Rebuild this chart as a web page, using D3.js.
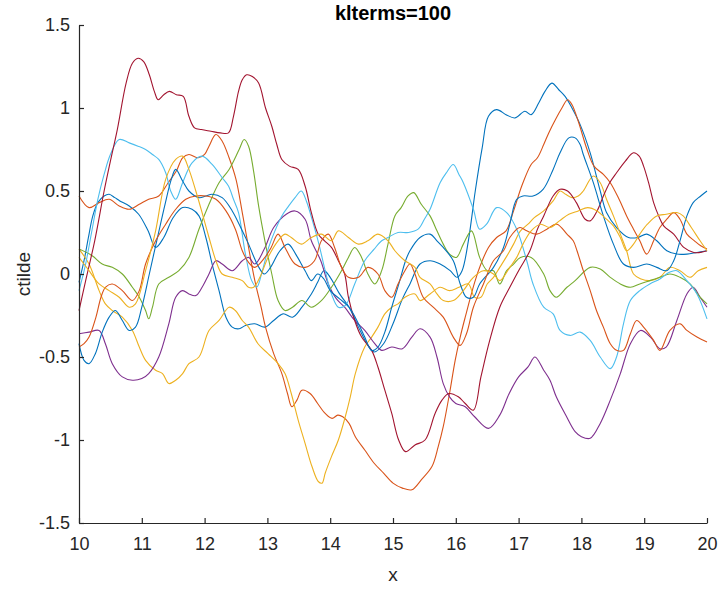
<!DOCTYPE html>
<html>
<head>
<meta charset="utf-8">
<script src="https://cdn.jsdelivr.net/npm/d3@7"></script>
<style>
  body { margin: 0; background: #fff; }
  svg { display: block; font-family: "Liberation Sans", Arial, Helvetica, sans-serif; }
</style>
</head>
<body>
<div id="chart"></div>
<script>
// Plot constants
const W = 718, H = 591;
const MARGIN = {LEFT: 79, RIGHT: 11, TOP: 25, BOTTOM: 68};

const titleText = "klterms=100";
const xLabel = "x";
const yLabel = "ctilde";
const xTicks = [10, 11, 12, 13, 14, 15, 16, 17, 18, 19, 20];
const yTicks = [-1.5, -1, -0.5, 0, 0.5, 1, 1.5];

// MATLAB default colour order
const colorOrder = ["#0072BD", "#D95319", "#EDB120", "#7E2F8E", "#77AC30", "#4DBEEE", "#A2142F"];

// series as [x, ctilde]
const blueA = [[10.0,-0.05],[10.08,0.08],[10.15,0.22],[10.22,0.35],[10.3,0.43],[10.4,0.47],[10.48,0.48],[10.57,0.46],[10.65,0.44],[10.8,0.41],[10.95,0.36],[11.1,0.26],[11.22,0.16],[11.35,0.22],[11.5,0.34],[11.65,0.4],[11.8,0.39],[11.91,0.35],[12.02,0.22],[12.12,0.06],[12.23,-0.1],[12.34,-0.26],[12.44,-0.32],[12.55,-0.33],[12.65,-0.31],[12.8,-0.3],[12.96,-0.32],[13.1,-0.28],[13.25,-0.24],[13.4,-0.26],[13.55,-0.2],[13.7,-0.12],[13.8,-0.05],[13.9,0.02],[14.0,-0.02],[14.15,-0.12],[14.3,-0.2],[14.45,-0.32],[14.6,-0.43],[14.7,-0.47],[14.85,-0.42],[15.0,-0.3],[15.15,-0.15],[15.27,-0.06],[15.43,0.06],[15.59,0.08],[15.75,0.06],[15.91,0.02],[16.02,-0.02],[16.1,0.02],[16.2,0.2],[16.31,0.5],[16.42,0.76],[16.52,0.95],[16.65,0.99],[16.8,0.96],[16.94,0.94],[17.1,0.98],[17.2,0.96],[17.32,1.03],[17.42,1.1],[17.53,1.15],[17.64,1.11],[17.74,1.07],[17.85,1.0],[17.98,0.9],[18.14,0.73],[18.3,0.5],[18.4,0.37],[18.56,0.28],[18.75,0.22],[18.9,0.22],[19.04,0.24],[19.2,0.2],[19.36,0.14],[19.52,0.12],[19.68,0.12],[19.84,0.13],[20.0,0.14]];

const orangeA = [[10.0,0.47],[10.16,0.4],[10.32,0.43],[10.48,0.45],[10.64,0.41],[10.8,0.39],[10.96,0.42],[11.11,0.45],[11.27,0.47],[11.42,0.55],[11.55,0.62],[11.65,0.7],[11.75,0.72],[11.9,0.7],[12.0,0.72],[12.07,0.77],[12.18,0.84],[12.28,0.8],[12.39,0.7],[12.5,0.57],[12.6,0.37],[12.7,0.16],[12.8,-0.04],[12.9,-0.2],[12.97,-0.32],[13.1,-0.48],[13.23,-0.6],[13.32,-0.72],[13.39,-0.8],[13.47,-0.76],[13.55,-0.7],[13.68,-0.72],[13.8,-0.78],[13.92,-0.84],[14.03,-0.87],[14.12,-0.85],[14.2,-0.86],[14.3,-0.9],[14.4,-0.98],[14.55,-1.06],[14.7,-1.14],[14.85,-1.2],[15.0,-1.26],[15.15,-1.29],[15.3,-1.3],[15.45,-1.24],[15.62,-1.16],[15.72,-1.04],[15.8,-0.92],[15.9,-0.72],[15.99,-0.52],[16.07,-0.38],[16.15,-0.26],[16.3,-0.05],[16.4,0.06],[16.52,0.16],[16.65,0.22],[16.8,0.26],[16.92,0.38],[17.05,0.53],[17.2,0.66],[17.3,0.7],[17.4,0.78],[17.48,0.85],[17.6,0.94],[17.69,1.0],[17.78,1.05],[17.85,1.02],[17.95,0.92],[18.09,0.75],[18.2,0.65],[18.35,0.6],[18.46,0.55],[18.6,0.45],[18.72,0.35],[18.83,0.27],[18.93,0.2],[19.04,0.12],[19.15,0.2],[19.25,0.28],[19.36,0.33],[19.47,0.37],[19.57,0.33],[19.68,0.24],[19.8,0.2],[19.9,0.17],[20.0,0.15]];

const yellowA = [[10.0,0.15],[10.16,0.06],[10.32,-0.1],[10.42,-0.18],[10.53,-0.22],[10.69,-0.26],[10.85,-0.34],[10.96,-0.44],[11.06,-0.52],[11.22,-0.58],[11.33,-0.6],[11.43,-0.66],[11.54,-0.64],[11.65,-0.6],[11.75,-0.54],[11.91,-0.5],[12.07,-0.34],[12.23,-0.28],[12.39,-0.2],[12.49,-0.22],[12.6,-0.28],[12.7,-0.32],[12.85,-0.42],[13.01,-0.48],[13.17,-0.54],[13.28,-0.6],[13.38,-0.72],[13.49,-0.88],[13.6,-1.02],[13.71,-1.16],[13.81,-1.25],[13.87,-1.26],[13.92,-1.2],[14.02,-1.1],[14.13,-1.0],[14.24,-0.86],[14.32,-0.74],[14.4,-0.6],[14.55,-0.44],[14.66,-0.38],[14.76,-0.32],[14.87,-0.24],[14.98,-0.2],[15.08,-0.18],[15.19,-0.14],[15.35,-0.12],[15.43,-0.16],[15.59,-0.12],[15.75,-0.08],[15.9,-0.1],[16.05,-0.08],[16.2,-0.06],[16.3,-0.14],[16.4,-0.14],[16.5,-0.06],[16.6,-0.02],[16.7,0.04],[16.8,0.1],[16.92,0.18],[17.03,0.26],[17.15,0.3],[17.25,0.34],[17.4,0.38],[17.55,0.44],[17.66,0.5],[17.75,0.48],[17.85,0.46],[17.95,0.47],[18.03,0.5],[18.19,0.59],[18.3,0.55],[18.4,0.45],[18.51,0.35],[18.62,0.24],[18.72,0.14],[18.83,0.0],[18.95,-0.03],[19.09,-0.04],[19.25,-0.02],[19.41,0.04],[19.57,0.02],[19.73,-0.02],[19.86,0.02],[20.0,0.04]];

const purple = [[10.0,-0.36],[10.16,-0.35],[10.32,-0.34],[10.42,-0.42],[10.53,-0.54],[10.69,-0.62],[10.85,-0.64],[11.0,-0.63],[11.11,-0.6],[11.27,-0.5],[11.43,-0.3],[11.54,-0.14],[11.65,-0.1],[11.75,-0.12],[11.86,-0.13],[11.96,-0.08],[12.07,0.0],[12.18,0.08],[12.28,0.06],[12.44,0.02],[12.6,0.08],[12.7,0.1],[12.8,0.06],[12.95,0.15],[13.1,0.28],[13.3,0.36],[13.44,0.38],[13.6,0.33],[13.7,0.2],[13.85,0.08],[13.97,-0.06],[14.1,-0.15],[14.23,-0.2],[14.39,-0.28],[14.55,-0.34],[14.71,-0.42],[14.82,-0.46],[14.98,-0.44],[15.15,-0.45],[15.3,-0.38],[15.43,-0.33],[15.59,-0.38],[15.7,-0.5],[15.8,-0.66],[15.9,-0.74],[16.0,-0.78],[16.15,-0.8],[16.3,-0.86],[16.52,-0.93],[16.7,-0.85],[16.85,-0.72],[17.0,-0.62],[17.15,-0.56],[17.26,-0.5],[17.4,-0.58],[17.5,-0.64],[17.6,-0.74],[17.75,-0.85],[17.9,-0.95],[18.0,-0.98],[18.14,-0.99],[18.3,-0.9],[18.46,-0.76],[18.62,-0.6],[18.78,-0.42],[18.94,-0.34],[19.1,-0.38],[19.25,-0.45],[19.35,-0.44],[19.52,-0.28],[19.68,-0.12],[19.78,-0.08],[19.89,-0.14],[20.0,-0.2]];

const green = [[10.0,0.15],[10.21,0.11],[10.37,0.06],[10.53,0.04],[10.69,0.0],[10.85,-0.08],[10.96,-0.14],[11.06,-0.22],[11.11,-0.27],[11.17,-0.2],[11.27,-0.06],[11.43,-0.02],[11.59,0.02],[11.75,0.1],[11.91,0.27],[12.07,0.42],[12.23,0.55],[12.39,0.63],[12.55,0.75],[12.63,0.81],[12.7,0.77],[12.78,0.62],[12.86,0.41],[12.96,0.2],[13.07,0.0],[13.17,-0.16],[13.28,-0.22],[13.4,-0.2],[13.55,-0.16],[13.7,-0.2],[13.86,-0.16],[14.02,-0.08],[14.18,0.02],[14.29,0.1],[14.39,0.16],[14.5,0.1],[14.6,0.0],[14.71,-0.06],[14.82,0.02],[14.92,0.18],[15.03,0.35],[15.13,0.4],[15.24,0.47],[15.33,0.49],[15.45,0.42],[15.59,0.35],[15.7,0.26],[15.8,0.18],[15.9,0.12],[16.01,0.1],[16.12,0.18],[16.25,0.26],[16.38,0.1],[16.5,0.02],[16.6,0.02],[16.7,-0.06],[16.81,0.02],[16.92,0.06],[17.03,0.1],[17.2,0.1],[17.4,0.0],[17.5,-0.1],[17.6,-0.14],[17.77,-0.08],[17.9,-0.04],[18.14,0.04],[18.3,0.03],[18.46,-0.02],[18.62,-0.06],[18.78,-0.08],[18.93,-0.06],[19.09,-0.04],[19.25,-0.02],[19.41,0.0],[19.57,-0.02],[19.73,-0.06],[19.89,-0.14],[20.0,-0.18]];

const cyan = [[10.0,-0.1],[10.1,0.05],[10.2,0.25],[10.3,0.45],[10.4,0.6],[10.5,0.72],[10.64,0.81],[10.8,0.79],[10.94,0.77],[11.06,0.75],[11.17,0.72],[11.27,0.69],[11.38,0.61],[11.46,0.5],[11.54,0.45],[11.65,0.55],[11.8,0.67],[11.96,0.71],[12.12,0.66],[12.28,0.58],[12.38,0.53],[12.46,0.45],[12.54,0.37],[12.65,0.12],[12.75,-0.04],[12.83,-0.08],[12.92,0.02],[13.02,0.16],[13.12,0.26],[13.23,0.35],[13.34,0.41],[13.44,0.46],[13.54,0.5],[13.62,0.44],[13.71,0.33],[13.82,0.18],[13.92,0.02],[14.02,-0.12],[14.13,-0.2],[14.24,-0.19],[14.39,-0.06],[14.55,0.08],[14.7,0.15],[14.82,0.2],[14.92,0.22],[15.08,0.25],[15.25,0.25],[15.4,0.27],[15.5,0.33],[15.59,0.39],[15.75,0.55],[15.85,0.61],[15.96,0.66],[16.05,0.6],[16.12,0.55],[16.28,0.39],[16.38,0.27],[16.49,0.3],[16.65,0.4],[16.81,0.37],[16.97,0.27],[17.13,0.08],[17.23,-0.06],[17.4,-0.2],[17.55,-0.24],[17.66,-0.34],[17.82,-0.37],[17.98,-0.35],[18.14,-0.4],[18.3,-0.5],[18.46,-0.57],[18.56,-0.5],[18.67,-0.3],[18.78,-0.16],[18.93,-0.1],[19.09,-0.06],[19.25,-0.03],[19.4,0.01],[19.52,0.02],[19.68,-0.04],[19.84,-0.12],[20.0,-0.27]];

const darkRed = [[10.0,-0.22],[10.1,-0.05],[10.25,0.2],[10.4,0.5],[10.5,0.68],[10.61,0.87],[10.75,1.15],[10.85,1.27],[10.94,1.3],[11.03,1.28],[11.12,1.2],[11.2,1.1],[11.26,1.05],[11.35,1.08],[11.44,1.1],[11.55,1.08],[11.66,1.07],[11.75,0.95],[11.84,0.88],[11.95,0.87],[12.1,0.86],[12.25,0.85],[12.38,0.85],[12.46,0.95],[12.54,1.1],[12.6,1.17],[12.67,1.2],[12.76,1.19],[12.86,1.15],[12.97,1.0],[13.07,0.89],[13.15,0.78],[13.23,0.69],[13.35,0.65],[13.49,0.63],[13.6,0.53],[13.7,0.37],[13.81,0.24],[13.91,0.2],[14.02,0.16],[14.13,0.08],[14.23,0.0],[14.29,-0.14],[14.39,-0.28],[14.5,-0.38],[14.66,-0.46],[14.76,-0.56],[14.87,-0.7],[14.98,-0.84],[15.09,-1.0],[15.2,-1.07],[15.35,-1.03],[15.51,-1.0],[15.67,-0.84],[15.78,-0.76],[15.89,-0.72],[16.04,-0.74],[16.15,-0.78],[16.28,-0.82],[16.4,-0.62],[16.54,-0.4],[16.7,-0.2],[16.86,-0.08],[17.0,0.02],[17.18,0.14],[17.3,0.27],[17.4,0.35],[17.55,0.47],[17.66,0.51],[17.78,0.5],[17.92,0.43],[18.06,0.33],[18.14,0.32],[18.25,0.38],[18.35,0.47],[18.45,0.55],[18.56,0.61],[18.7,0.68],[18.83,0.73],[18.92,0.71],[18.99,0.65],[19.07,0.55],[19.15,0.43],[19.23,0.35],[19.31,0.29],[19.47,0.24],[19.63,0.16],[19.79,0.13],[19.9,0.13],[20.0,0.14]];

const blueB = [[10.0,-0.42],[10.08,-0.52],[10.16,-0.54],[10.26,-0.48],[10.37,-0.35],[10.48,-0.26],[10.58,-0.22],[10.69,-0.28],[10.8,-0.34],[10.9,-0.32],[11.0,-0.2],[11.12,0.0],[11.25,0.22],[11.37,0.42],[11.47,0.57],[11.54,0.63],[11.65,0.56],[11.75,0.5],[11.91,0.46],[12.02,0.47],[12.12,0.48],[12.28,0.46],[12.44,0.38],[12.6,0.26],[12.7,0.18],[12.85,0.05],[12.95,0.0],[13.05,0.04],[13.2,0.14],[13.33,0.18],[13.45,0.12],[13.6,0.02],[13.7,-0.04],[13.8,0.0],[13.9,-0.03],[14.0,-0.1],[14.15,-0.15],[14.3,-0.2],[14.45,-0.3],[14.55,-0.38],[14.66,-0.46],[14.76,-0.44],[14.87,-0.35],[14.98,-0.2],[15.1,-0.05],[15.2,0.08],[15.27,0.14],[15.43,0.22],[15.59,0.24],[15.7,0.2],[15.8,0.16],[15.96,0.08],[16.07,-0.06],[16.17,-0.14],[16.28,-0.14],[16.38,-0.06],[16.6,0.04],[16.76,0.16],[16.86,0.3],[16.97,0.45],[17.07,0.47],[17.23,0.47],[17.39,0.51],[17.55,0.63],[17.66,0.73],[17.8,0.82],[17.9,0.82],[17.98,0.78],[18.03,0.72],[18.19,0.55],[18.35,0.35],[18.51,0.18],[18.67,0.06],[18.83,0.04],[19.04,0.06],[19.2,0.04],[19.36,0.02],[19.47,0.08],[19.57,0.2],[19.68,0.35],[19.78,0.43],[19.9,0.47],[20.0,0.5]];

const orangeB = [[10.0,-0.44],[10.08,-0.42],[10.16,-0.38],[10.27,-0.26],[10.35,-0.14],[10.42,-0.08],[10.53,-0.06],[10.69,-0.1],[10.85,-0.16],[10.96,-0.1],[11.06,0.06],[11.22,0.2],[11.38,0.3],[11.54,0.39],[11.7,0.45],[11.86,0.47],[12.02,0.47],[12.18,0.45],[12.34,0.38],[12.49,0.27],[12.6,0.14],[12.7,0.07],[12.8,0.04],[12.96,0.1],[13.06,0.16],[13.17,0.24],[13.28,0.16],[13.44,0.06],[13.6,0.04],[13.75,0.08],[13.86,0.2],[13.97,0.24],[14.07,0.16],[14.18,0.04],[14.29,-0.02],[14.45,-0.02],[14.6,0.04],[14.76,0.0],[14.87,-0.1],[14.98,-0.14],[15.08,-0.06],[15.19,0.02],[15.27,0.06],[15.35,0.0],[15.48,-0.14],[15.64,-0.2],[15.8,-0.26],[15.96,-0.38],[16.07,-0.43],[16.17,-0.36],[16.28,-0.2],[16.44,-0.06],[16.6,0.08],[16.76,0.14],[16.86,0.22],[17.02,0.28],[17.13,0.26],[17.29,0.24],[17.45,0.27],[17.61,0.3],[17.77,0.24],[17.87,0.2],[17.93,0.14],[18.03,0.02],[18.14,-0.1],[18.24,-0.22],[18.35,-0.32],[18.46,-0.42],[18.56,-0.46],[18.67,-0.46],[18.78,-0.36],[18.88,-0.28],[18.99,-0.32],[19.15,-0.4],[19.25,-0.46],[19.41,-0.34],[19.57,-0.3],[19.68,-0.34],[19.84,-0.38],[20.0,-0.41]];

const yellowB = [[10.0,0.1],[10.16,0.02],[10.32,-0.06],[10.48,-0.1],[10.64,-0.14],[10.8,-0.2],[10.9,-0.18],[11.06,0.02],[11.22,0.26],[11.38,0.57],[11.54,0.69],[11.65,0.71],[11.75,0.63],[11.86,0.5],[11.96,0.37],[12.07,0.22],[12.18,0.08],[12.28,0.0],[12.44,-0.02],[12.6,-0.04],[12.7,-0.08],[12.78,-0.08],[12.88,-0.02],[13.01,0.1],[13.17,0.2],[13.28,0.24],[13.38,0.22],[13.54,0.18],[13.7,0.22],[13.86,0.24],[14.02,0.2],[14.13,0.26],[14.29,0.22],[14.45,0.18],[14.6,0.2],[14.76,0.24],[14.92,0.2],[15.03,0.14],[15.19,0.08],[15.35,0.04],[15.43,-0.02],[15.59,-0.06],[15.7,-0.12],[15.8,-0.16],[15.96,-0.16],[16.12,-0.1],[16.28,-0.02],[16.44,0.02],[16.6,0.0],[16.7,-0.04],[16.86,0.04],[16.97,0.1],[17.07,0.18],[17.2,0.26],[17.35,0.3],[17.5,0.28],[17.65,0.32],[17.8,0.36],[17.95,0.38],[18.1,0.4],[18.25,0.38],[18.4,0.33],[18.51,0.29],[18.62,0.22],[18.72,0.14],[18.83,0.18],[18.93,0.24],[19.05,0.3],[19.2,0.35],[19.35,0.36],[19.52,0.37],[19.62,0.35],[19.75,0.28],[19.89,0.2],[20.0,0.14]];

// plot order = MATLAB line order
const seriesList = [blueA, orangeA, yellowA, purple, green, cyan, darkRed, blueB, orangeB, yellowB];

const svg = d3.select("#chart")
  .append("svg")
  .attr("width", W)
  .attr("height", H);

const x = d3.scaleLinear().domain([10, 20]).range([MARGIN.LEFT, W - MARGIN.RIGHT]);
const y = d3.scaleLinear().domain([-1.5, 1.5]).range([H - MARGIN.BOTTOM, MARGIN.TOP]);

const line = d3.line()
  .x(d => x(d[0]))
  .y(d => y(d[1]))
  .curve(d3.curveCatmullRom.alpha(0.5));

svg.append("g")
  .attr("class", "lines")
  .selectAll("path")
  .data(seriesList)
  .join("path")
  .attr("d", line)
  .attr("fill", "none")
  .attr("stroke", (d, i) => colorOrder[i % colorOrder.length])
  .attr("stroke-width", 1.1)
  .attr("stroke-linejoin", "round");

// axes (box off, ticks pointing in)
const axisColor = "#262626";
const fmt = d => String(d);

const xAxisGroup = svg.append("g")
  .attr("transform", "translate(0," + (H - MARGIN.BOTTOM) + ")")
  .call(d3.axisBottom(x).tickValues(xTicks).tickFormat(fmt).tickSizeInner(-5).tickSizeOuter(0).tickPadding(14));

const yAxisGroup = svg.append("g")
  .attr("transform", "translate(" + MARGIN.LEFT + ",0)")
  .call(d3.axisLeft(y).tickValues(yTicks).tickFormat(fmt).tickSizeInner(-5).tickSizeOuter(0).tickPadding(9));

[xAxisGroup, yAxisGroup].forEach(g => {
  g.select(".domain").attr("stroke", axisColor).attr("stroke-width", 1.2);
  g.selectAll(".tick line").attr("stroke", axisColor).attr("stroke-width", 1.2);
  g.selectAll(".tick text")
    .attr("fill", axisColor)
    .style("font-size", "18px")
    .style("font-family", "'Liberation Sans', Arial, sans-serif");
});

// title and axis labels
svg.append("text")
  .attr("x", (MARGIN.LEFT + W - MARGIN.RIGHT) / 2)
  .attr("y", 20)
  .attr("text-anchor", "middle")
  .style("font-size", "20px")
  .style("font-weight", "bold")
  .attr("fill", "#000")
  .text(titleText);

svg.append("text")
  .attr("x", (MARGIN.LEFT + W - MARGIN.RIGHT) / 2)
  .attr("y", 581)
  .attr("text-anchor", "middle")
  .style("font-size", "19px")
  .attr("fill", axisColor)
  .text(xLabel);

svg.append("text")
  .attr("transform", "translate(30," + y(0) + ") rotate(-90)")
  .attr("text-anchor", "middle")
  .style("font-size", "19px")
  .attr("fill", axisColor)
  .text(yLabel);
</script>
</body>
</html>
